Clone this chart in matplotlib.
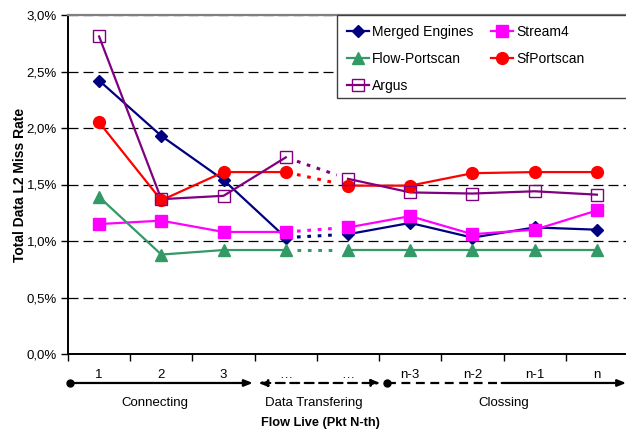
import matplotlib
matplotlib.use("Agg")
import matplotlib.pyplot as plt
from matplotlib.ticker import FuncFormatter, FixedLocator
from matplotlib.lines import Line2D
from matplotlib.patches import Rectangle

plt.rcParams['font.family'] = ['Liberation Sans', 'DejaVu Sans']

categories = ["1", "2", "3", "\u2026", "\u2026", "n-3", "n-2", "n-1", "n"]

merged_engines = [2.42, 1.93, 1.54, 1.03, 1.06, 1.16, 1.03, 1.12, 1.10]
stream4        = [1.15, 1.18, 1.08, 1.08, 1.12, 1.22, 1.06, 1.10, 1.27]
flow_portscan  = [1.39, 0.88, 0.92, 0.92, 0.92, 0.92, 0.92, 0.92, 0.92]
sf_portscan    = [2.05, 1.36, 1.61, 1.61, 1.49, 1.49, 1.60, 1.61, 1.61]
argus          = [2.81, 1.37, 1.40, 1.74, 1.55, 1.43, 1.42, 1.44, 1.41]

series = [
    ("Merged Engines", merged_engines, dict(color="#000080", marker="D", ms=6.5, mfc="#000080", mec="#000080")),
    ("Stream4",        stream4,        dict(color="#FF00FF", marker="s", ms=8.5, mfc="#FF00FF", mec="#FF00FF")),
    ("Flow-Portscan",  flow_portscan,  dict(color="#339966", marker="^", ms=8.5, mfc="#339966", mec="#339966")),
    ("SfPortscan",     sf_portscan,    dict(color="#FF0000", marker="o", ms=8.5, mfc="#FF0000", mec="#FF0000")),
    ("Argus",          argus,          dict(color="#800080", marker="s", ms=8.5, mfc="none",    mec="#800080", mew=1.0)),
]

phases = ["Connecting", "Data Transfering", "Clossing"]

fig = plt.figure(figsize=(6.26, 4.30), dpi=100)
ax = fig.add_axes([68 / 626, 1 - 354 / 430, 560 / 626, 339 / 430])

x = list(range(len(categories)))
gap = 3  # the break between the two "..." positions

handles = {}
for name, vals, st in series:
    color = st["color"]
    # solid parts on both sides of the break
    ax.plot(x[:gap + 1], vals[:gap + 1], color=color, lw=1.6, zorder=3)
    ax.plot(x[gap + 1:], vals[gap + 1:], color=color, lw=1.6, zorder=3)
    # dotted bridge across the break
    x0, x1 = x[gap], x[gap + 1]
    y0, y1 = vals[gap], vals[gap + 1]
    t0, t1 = 0.18, 0.82
    ax.plot([x0 + (x1 - x0) * t0, x0 + (x1 - x0) * t1],
            [y0 + (y1 - y0) * t0, y0 + (y1 - y0) * t1],
            color=color, lw=2.2, linestyle=(0, (1.2, 2.2)), zorder=3)
    mk = {k: v for k, v in st.items() if k != "color"}
    ax.plot(x, vals, linestyle="none", zorder=4, **mk)
    handles[name] = Line2D([0], [0], color=color, lw=1.6, **mk)

ax.set_xlim(-0.5, len(categories) - 0.5)
ax.set_ylim(0, 3.0)

# y axis
ax.yaxis.set_major_locator(FixedLocator([0, 0.5, 1.0, 1.5, 2.0, 2.5, 3.0]))
ax.yaxis.set_major_formatter(FuncFormatter(lambda v, p: f"{v:.1f}%".replace(".", ",")))
ax.yaxis.grid(True, color="black", lw=0.9, linestyle=(0, (8, 4)), zorder=1)
ax.set_axisbelow(True)

# x axis: ticks between categories, labels centred on categories
ax.set_xticks([i - 0.5 for i in range(len(categories) + 1)])
ax.set_xticklabels([])
ax.set_xticks(x, minor=True)
ax.set_xticklabels(categories, minor=True)
ax.tick_params(axis="x", which="minor", length=0, pad=11, labelsize=9.5)
ax.tick_params(axis="x", which="major", length=5, width=1, direction="out")
ax.tick_params(axis="y", length=5, width=1, direction="out", labelsize=9.5, pad=3)

for s in ("left", "bottom"):
    ax.spines[s].set_linewidth(1.4)
    ax.spines[s].set_color("black")
ax.spines["right"].set_visible(False)
ax.spines["top"].set_color("#808080")
ax.spines["top"].set_linewidth(1.6)

ax.set_ylabel("Total Data L2 Miss Rate", fontsize=10, fontweight="bold", labelpad=0)

# phase arrows under the tick labels
ytr = ax.get_xaxis_transform()
ya = -0.0855
kw = dict(xycoords=ytr, textcoords=ytr, annotation_clip=False)
ax.annotate("", xy=(2.47, ya), xytext=(-0.47, ya),
            arrowprops=dict(arrowstyle="-|>,head_length=0.5,head_width=0.2", color="black", lw=1.6,
                            shrinkA=0, shrinkB=0), **kw)
ax.annotate("", xy=(4.52, ya), xytext=(2.56, ya),
            arrowprops=dict(arrowstyle="<|-|>,head_length=0.5,head_width=0.2", color="black", lw=1.6,
                            linestyle=(0, (4, 2.5)), shrinkA=0, shrinkB=0), **kw)
ax.plot([4.62, 6.47], [ya, ya], transform=ytr, clip_on=False, color="black", lw=1.6,
        linestyle=(0, (4, 2.5)))
ax.annotate("", xy=(8.47, ya), xytext=(6.47, ya),
            arrowprops=dict(arrowstyle="-|>,head_length=0.5,head_width=0.2", color="black", lw=1.6,
                            shrinkA=0, shrinkB=0), **kw)
ax.plot([-0.47, 4.62], [ya, ya], transform=ytr, clip_on=False, linestyle="none",
        marker="o", ms=5, color="black")

ylab = -0.145
ax.text(0.9, ylab, phases[0], transform=ytr, ha="center", va="center", fontsize=9.5)
ax.text(3.45, ylab, phases[1], transform=ytr, ha="center", va="center", fontsize=9.5)
ax.text(6.5, ylab, phases[2], transform=ytr, ha="center", va="center", fontsize=9.5)
ax.text(3.55, -0.203, "Flow Live (Pkt N-th)", transform=ytr, ha="center", va="center",
        fontsize=9.2, fontweight="bold")

# legend box, running out past the right edge of the figure
lx0 = (337 - 68) / 560
ly0 = (354 - 98) / 339
ax.add_patch(Rectangle((lx0, ly0), 1.2, 1.0 - ly0, transform=ax.transAxes, facecolor="white",
                       edgecolor="#404040", lw=1.0, clip_on=False, zorder=5))
order = ["Merged Engines", "Flow-Portscan", "Argus", "Stream4", "SfPortscan"]
leg = ax.legend([handles[n] for n in order], order, ncol=2, loc="upper left",
                bbox_to_anchor=(lx0, 1.0), borderaxespad=0, fontsize=10,
                frameon=False, handlelength=1.6, handletextpad=0.2, columnspacing=1.3,
                labelspacing=0.95, borderpad=0.7)
leg.set_zorder(6)

fig.savefig("out.png", dpi=100)
